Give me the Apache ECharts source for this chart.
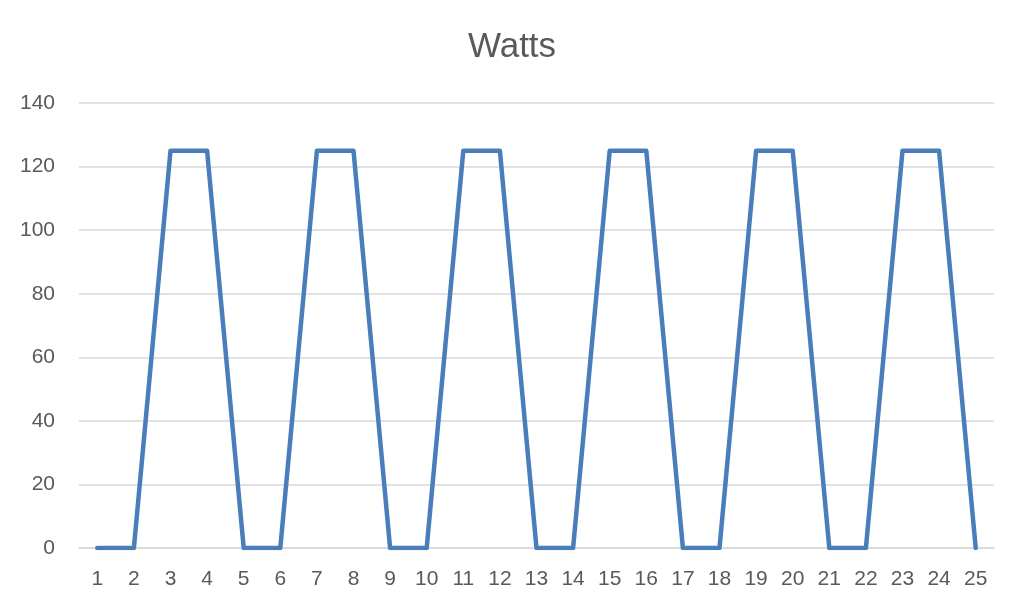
<!DOCTYPE html>
<html>
<head>
<meta charset="utf-8">
<script src="https://cdn.jsdelivr.net/npm/echarts@6/dist/echarts.min.js"></script>
<style>
html,body{margin:0;padding:0;background:#fff;}
#chart{width:1024px;height:613px;}
</style>
</head>
<body>
<div id="chart"></div>
<script>
const categories = ['1','2','3','4','5','6','7','8','9','10','11','12','13','14','15','16','17','18','19','20','21','22','23','24','25'];
const watts = [0,0,125,125,0,0,125,125,0,0,125,125,0,0,125,125,0,0,125,125,0,0,125,125,0];
const yTicks = {min:0, max:140, interval:20};

const font = 'Liberation Sans, Arial, sans-serif';
const chart = echarts.init(document.getElementById('chart'));
chart.setOption({
  animation:false,
  title:{text:'Watts',left:'center',top:25,textStyle:{fontFamily:font,fontSize:35,fontWeight:'normal',color:'#595959'}},
  grid:{left:79,right:30,top:103,bottom:65},
  xAxis:{type:'category',data:categories,boundaryGap:true,
    axisLine:{lineStyle:{color:'#d9d9d9',width:1.5}},
    axisTick:{show:false},
    axisLabel:{color:'#595959',fontSize:21,fontFamily:font,margin:21}},
  yAxis:{type:'value',min:yTicks.min,max:yTicks.max,interval:yTicks.interval,
    axisLine:{show:false},axisTick:{show:false},
    splitLine:{lineStyle:{color:'#d9d9d9',width:1.5}},
    axisLabel:{color:'#595959',fontSize:21,fontFamily:font,margin:24}},
  series:[{type:'line',data:watts,showSymbol:false,symbol:'none',
    lineStyle:{color:'#4a7ebb',width:4.5,cap:'round',join:'round'}}]
});
</script>
</body>
</html>
